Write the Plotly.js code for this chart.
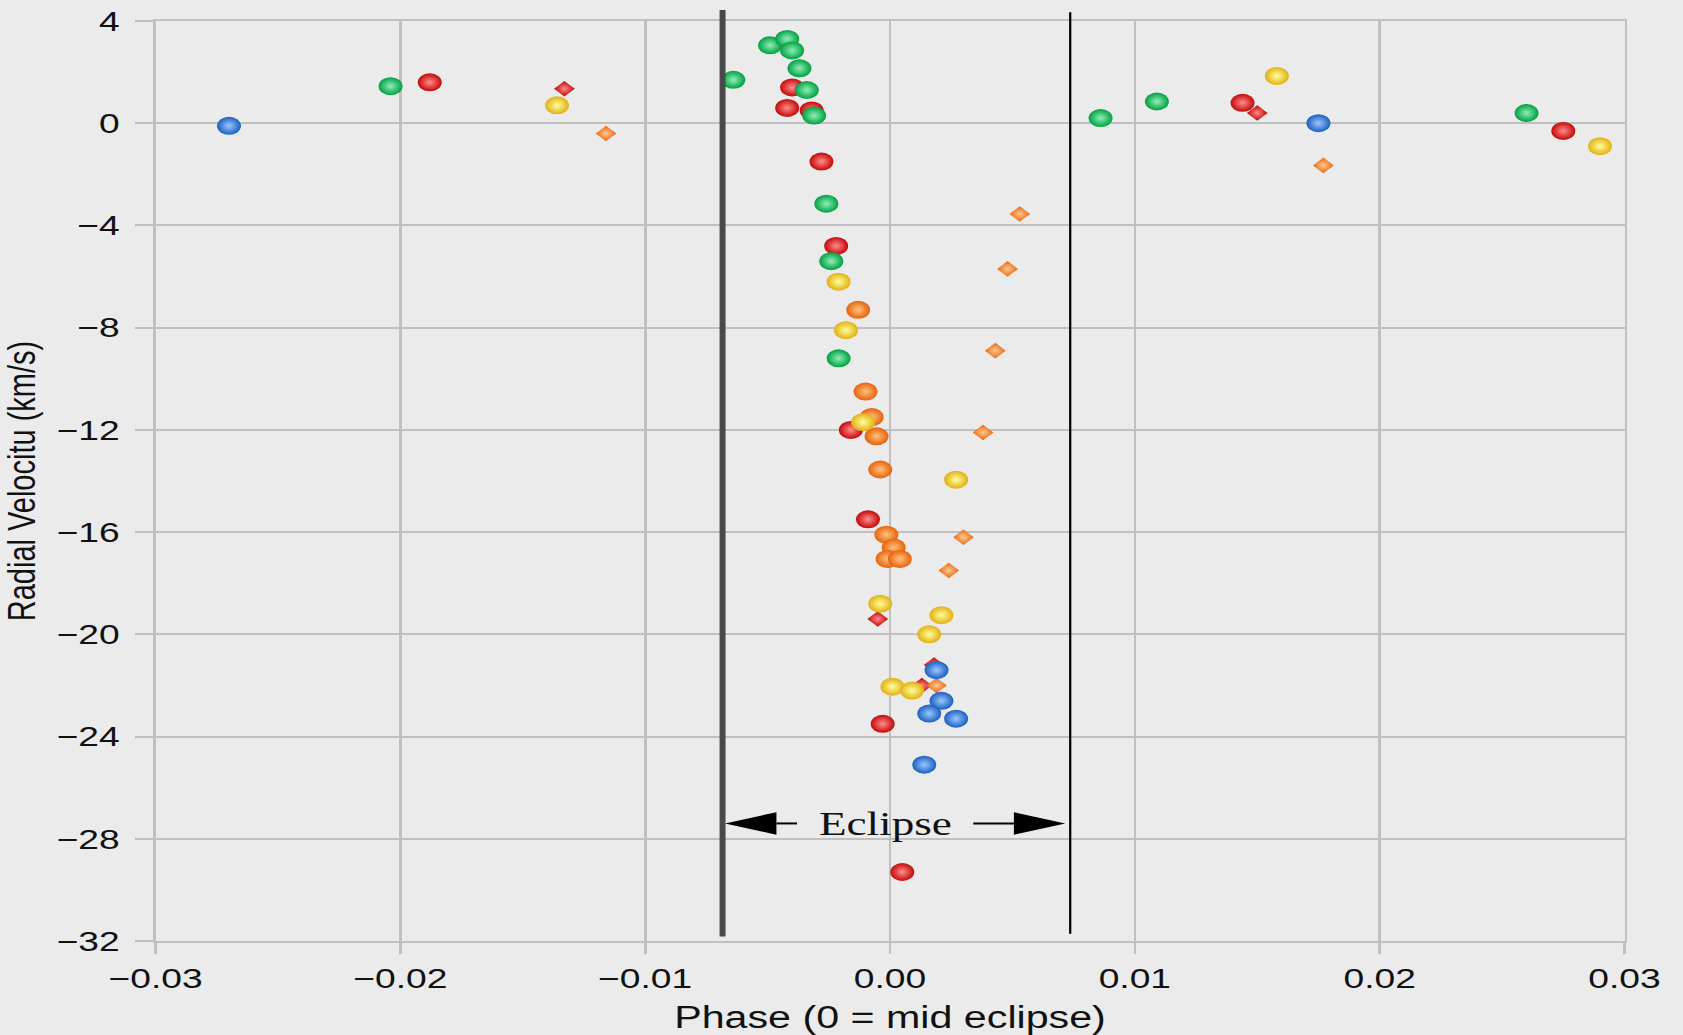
<!DOCTYPE html>
<html>
<head>
<meta charset="utf-8">
<script src="https://cdn.plot.ly/plotly-3.0.1.min.js"></script>
<style>
html, body { margin: 0; padding: 0; background: #ebebeb; overflow: hidden; }
#chart { width: 1266px; height: 1035px; transform: scaleX(1.32938); transform-origin: 0 0; }
</style>
</head>
<body>
<div id="chart"></div>
<script>
// ---- data (phase, radial velocity km/s) ----
const blueX = [-0.0270, 0.0175, 0.0019, 0.0021, 0.0016, 0.0027, 0.0014];
const blueY = [-0.1, 0.0, -21.4, -22.6, -23.1, -23.3, -25.1];

const redX = [-0.0188, -0.0040, -0.0042, -0.0032, -0.0028, -0.0022, -0.0016, -0.0009, -0.0003, 0.0005, 0.0144, 0.0275];
const redY = [1.6, 1.4, 0.6, 0.5, -1.5, -4.8, -12.0, -15.5, -23.5, -29.3, 0.8, -0.3];

const redSmallX = [-0.0133, 0.0150, -0.0005, 0.0013, 0.0018];
const redSmallY = [1.35, 0.4, -19.4, -22.0, -21.2];

const greenX = [-0.0204, -0.0064, -0.0049, -0.0042, -0.0040, -0.0037, -0.0034, -0.0031, -0.0026, -0.0024, -0.0021, 0.0086, 0.0109, 0.0260];
const greenY = [1.45, 1.7, 3.05, 3.3, 2.85, 2.15, 1.3, 0.3, -3.15, -5.4, -9.2, 0.2, 0.85, 0.4];

const yellowX = [-0.0136, 0.0158, 0.0290, -0.0021, -0.0018, -0.0011, 0.0027, -0.0004, 0.0021, 0.0016, 0.0001, 0.0009];
const yellowY = [0.7, 1.85, -0.9, -6.2, -8.1, -11.7, -13.95, -18.8, -19.25, -20.0, -22.05, -22.2];

const orangeX = [-0.0013, -0.0010, -0.00075, -0.00055, -0.0004, -0.00015, 0.00015, -0.0001, 0.0004];
const orangeY = [-7.3, -10.5, -11.5, -12.25, -13.55, -16.1, -16.6, -17.05, -17.05];

const orangeSmallX = [-0.0116, 0.0053, 0.0048, 0.0043, 0.0038, 0.0030, 0.0024, 0.0019, 0.0177];
const orangeSmallY = [-0.4, -3.55, -5.7, -8.9, -12.1, -16.2, -17.5, -22.0, -1.65];

// eclipse window
const ECLIPSE_START = -0.00684;
const ECLIPSE_END = 0.00736;
const ECLIPSE_LABEL = 'Eclipse';
const ECLIPSE_LABEL_X = -0.0002;
const ECLIPSE_LABEL_Y = -27.4;

const X_TITLE = 'Phase (0 = mid eclipse)';
const Y_TITLE = 'Radial Velocitu (km/s)';

// ---- styling ----
const SANS = 'Liberation Sans, Arial, sans-serif';
const GRID = '#c0c0c0';

function ball(x, y, edge, centre, name) {
  return {
    type: 'scatter', mode: 'markers', x: x, y: y, name: name,
    hoverinfo: 'x+y',
    marker: { symbol: 'circle', size: 18, color: edge, line: { width: 0 },
              gradient: { type: 'radial', color: centre } }
  };
}
function star(x, y, edge, centre, name) {
  return {
    type: 'scatter', mode: 'markers', x: x, y: y, name: name,
    hoverinfo: 'x+y',
    marker: { symbol: 'diamond', size: 12, color: edge, line: { width: 0 },
              gradient: { type: 'radial', color: centre } }
  };
}

const traces = [
  star(redSmallX, redSmallY, '#c00000', '#ff8a8a', 'red (small)'),
  ball(redX, redY, '#c40808', '#ff8c8c', 'red'),
  star(orangeSmallX, orangeSmallY, '#e8660f', '#ffc890', 'orange (small)'),
  ball(orangeX, orangeY, '#e6620e', '#ffc27a', 'orange'),
  ball(yellowX, yellowY, '#e2b012', '#ffff9a', 'yellow'),
  ball(greenX, greenY, '#00a040', '#8ef0b8', 'green'),
  ball(blueX, blueY, '#1a5fc0', '#9cc8ff', 'blue')
];

// arrow geometry (in data units)
const HEAD_LEN = 0.0021;
const HEAD_HALF = 0.44;
const LEFT_TIP = ECLIPSE_START + 0.0001;
const RIGHT_TIP = ECLIPSE_END - 0.0002;
const SHAFT_GAP = 0.0036;

const shapes = [
  { type: 'line', xref: 'x', yref: 'paper', x0: ECLIPSE_START, x1: ECLIPSE_START, y0: 0.005, y1: 1.012,
    line: { color: '#4a4a4a', width: 4.5 } },
  { type: 'line', xref: 'x', yref: 'paper', x0: ECLIPSE_END, x1: ECLIPSE_END, y0: 0.008, y1: 1.0095,
    line: { color: '#000000', width: 1.7 } },
  { type: 'path', xref: 'x', yref: 'y',
    path: `M ${LEFT_TIP},${ECLIPSE_LABEL_Y} L ${LEFT_TIP + HEAD_LEN},${ECLIPSE_LABEL_Y + HEAD_HALF} L ${LEFT_TIP + HEAD_LEN},${ECLIPSE_LABEL_Y - HEAD_HALF} Z`,
    fillcolor: '#000', line: { width: 0 } },
  { type: 'line', xref: 'x', yref: 'y', x0: LEFT_TIP + HEAD_LEN, x1: ECLIPSE_LABEL_X - SHAFT_GAP,
    y0: ECLIPSE_LABEL_Y, y1: ECLIPSE_LABEL_Y, line: { color: '#000', width: 2 } },
  { type: 'path', xref: 'x', yref: 'y',
    path: `M ${RIGHT_TIP},${ECLIPSE_LABEL_Y} L ${RIGHT_TIP - HEAD_LEN},${ECLIPSE_LABEL_Y + HEAD_HALF} L ${RIGHT_TIP - HEAD_LEN},${ECLIPSE_LABEL_Y - HEAD_HALF} Z`,
    fillcolor: '#000', line: { width: 0 } },
  { type: 'line', xref: 'x', yref: 'y', x0: ECLIPSE_LABEL_X + SHAFT_GAP, x1: RIGHT_TIP - HEAD_LEN,
    y0: ECLIPSE_LABEL_Y, y1: ECLIPSE_LABEL_Y, line: { color: '#000', width: 2 } }
];

const layout = {
  width: 1266, height: 1035,
  paper_bgcolor: '#ebebeb', plot_bgcolor: '#ebebeb',
  showlegend: false,
  margin: { l: 116.9, r: 43.6, t: 20.7, b: 93.5, pad: 0 },
  xaxis: {
    range: [-0.03, 0.03], tick0: 0, dtick: 0.01, tickformat: '.2f',
    showgrid: true, gridcolor: GRID, gridwidth: 1.6, zeroline: false,
    showline: true, linecolor: GRID, linewidth: 2, mirror: true,
    ticks: 'outside', ticklen: 11, tickwidth: 1.6, tickcolor: GRID,
    tickfont: { family: SANS, size: 28, color: '#111' },
    title: { text: X_TITLE, font: { family: SANS, size: 31, color: '#111' }, standoff: 16 },
    automargin: false
  },
  yaxis: {
    range: [-32, 4], tick0: 0, dtick: 4,
    showgrid: true, gridcolor: GRID, gridwidth: 2, zeroline: false,
    showline: true, linecolor: GRID, linewidth: 1.6, mirror: true,
    ticks: 'outside', ticklen: 13.5, tickwidth: 2, tickcolor: GRID,
    ticklabelstandoff: 6,
    tickfont: { family: SANS, size: 28, color: '#111' },
    title: { text: Y_TITLE, font: { family: SANS, size: 29, color: '#111' }, standoff: 12 },
    automargin: false
  },
  shapes: shapes,
  annotations: [
    { x: ECLIPSE_LABEL_X, y: ECLIPSE_LABEL_Y, xref: 'x', yref: 'y', text: ECLIPSE_LABEL,
      showarrow: false, xanchor: 'center', yanchor: 'middle',
      font: { family: 'Liberation Serif, Times New Roman, serif', size: 34, color: '#111' } }
  ]
};

Plotly.newPlot('chart', traces, layout, { displayModeBar: false, responsive: false });
</script>
</body>
</html>
